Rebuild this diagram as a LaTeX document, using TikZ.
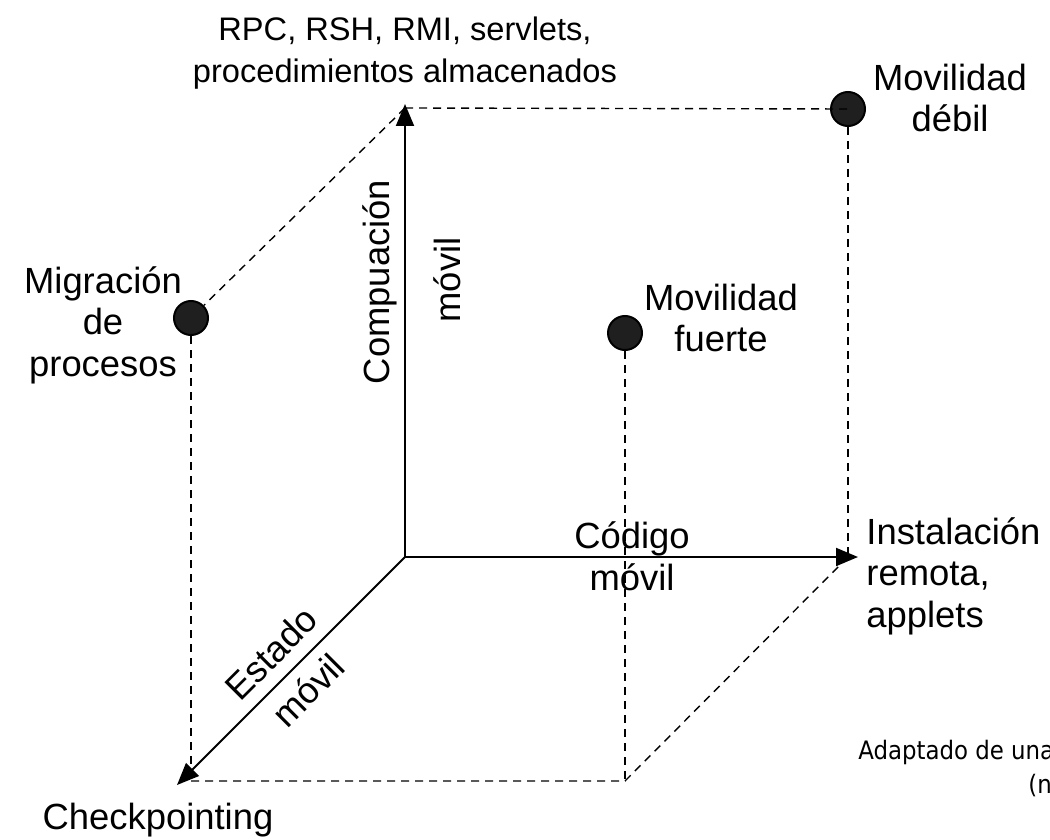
\documentclass[tikz,border=0pt]{standalone}
\usepackage{fontspec}
\setmainfont{Liberation Sans}
\newfontfamily\notefont{DejaVu Sans Condensed}
\usetikzlibrary{arrows.meta}

\begin{document}
\begin{tikzpicture}[x=0.5pt,y=-0.5pt,
	eje/.style={line width=1pt,-{Triangle[length=11pt,width=9pt]}},
	guia/.style={line width=0.7pt,dash pattern=on 4pt off 3pt},
	punto/.style={circle,draw=black,line width=1pt,fill=black!88,minimum size=17pt,inner sep=0pt},
	rotulo/.style={align=center,font=\fontsize{18.2}{20.8}\selectfont,inner sep=0pt},
	titulo/.style={align=center,font=\fontsize{16.3}{21}\selectfont,inner sep=0pt},
	nota/.style={font=\notefont\fontsize{12.7}{16}\selectfont,inner sep=0pt}]
	\useasboundingbox (0,0) rectangle (1050,840);
	\clip (0,0) rectangle (1050,840);
	
	% ejes
	\coordinate (origen) at (405,557);
	\coordinate (finsup) at (405,104);
	\coordinate (finder) at (858,557);
	\coordinate (finfrente) at (177,785);
	
	% esquinas del cubo
	\coordinate (esqsup) at (405,108);
	\coordinate (esqder) at (848,557);
	\coordinate (esqfrente) at (191,781);
	\coordinate (esqbase) at (625,781);
	
	\draw (848,109) node[punto] (debil) {};
	\draw (625,333) node[punto] (fuerte) {};
	\draw (191,318) node[punto] (migracion) {};
	
	\draw [guia] (debil) -- (esqder);
	\draw [guia] (esqsup) -- (migracion);
	\draw [guia] (migracion) -- (esqfrente);
	\draw [guia] (esqfrente) -- (esqbase) -- (esqder);
	\draw [guia] (fuerte) -- (esqbase);
	\draw [guia] (esqsup) -- (debil.center);
	
	\draw [eje] (origen) -- (finsup);
	\draw [eje] (origen) -- (finder);
	\draw [eje] (origen) -- (finfrente);
	
	% rotulos
	\draw (405,53) node[titulo] (rpc)
	{
		RPC, RSH, RMI, servlets, \\
		procedimientos almacenados
	};
	
	\draw (950,98) node[rotulo] (movdebil)
	{
		Movilidad \\
		débil
	};
	
	\draw (103,325) node[rotulo] (migtexto)
	{
		Migración \\
		de \\
		procesos
	};
	
	\draw (721,318) node[rotulo] (movfuerte)
	{
		Movilidad \\
		fuerte
	};
	
	\draw (380,282) node[rotulo,rotate=90] (compu) {Compuación};
	\draw (447,280) node[rotulo,rotate=90] (compumovil) {móvil};
	
	\draw (632,556) node[rotulo] (codigo)
	{
		Código \\
		móvil
	};
	
	\draw (271,653) node[rotulo,rotate=45] (estado) {Estado};
	\draw (308,690) node[rotulo,rotate=45] (estadomovil) {móvil};
	
	\draw (866,576) node[rotulo,align=left,anchor=west] (instalacion)
	{
		Instalación \\
		remota, \\
		applets
	};
	
	\draw (158,820) node[rotulo] (checkpoint) {Checkpointing};
	
	\draw (858,752) node[nota,anchor=west] (adaptado) {Adaptado de una};
	\draw (1028,786) node[nota,anchor=west] (nota2) {(n};
\end{tikzpicture}
\end{document}
